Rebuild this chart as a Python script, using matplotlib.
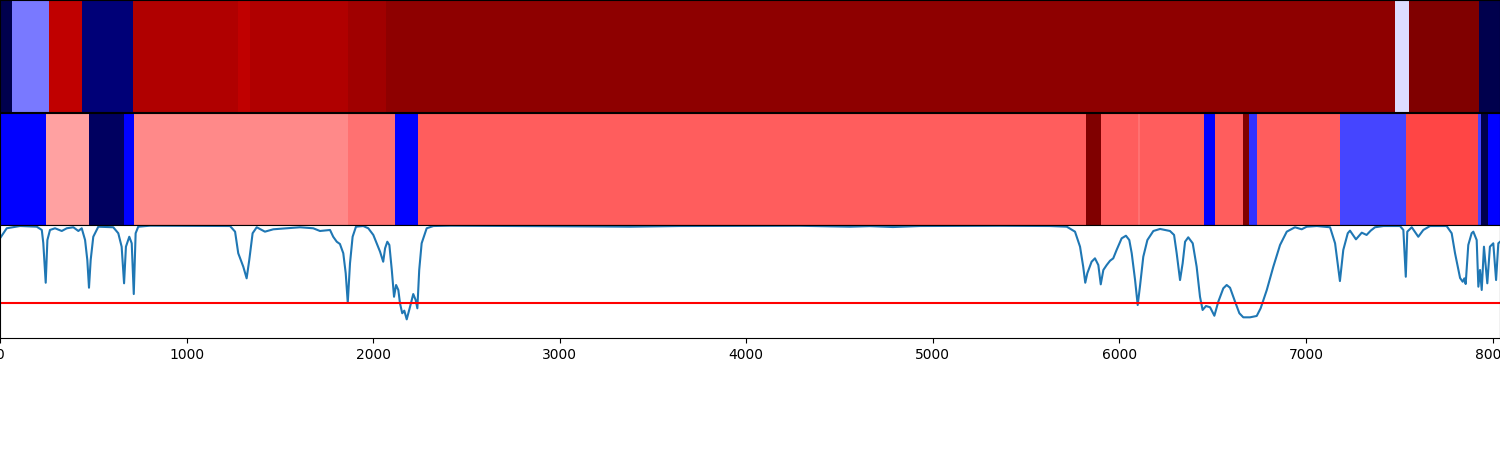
import numpy as np
import matplotlib
matplotlib.use("Agg")
import matplotlib.pyplot as plt

# ---- data ----
top_edges = [0, 64, 263, 440, 713, 1276, 1340, 1865, 2069, 7477, 7552, 7927, 8040]
top_values = [0.0, 0.368, 0.874, 0.061, 0.905, 0.874, 0.905, 0.936, 0.971, 0.466, 1.0, 0.0]

mid_edges = [0, 247, 477, 665, 718, 1865, 2117, 2240, 5821, 5901, 6102, 6110, 6453,
             6512, 6663, 6695, 6738, 7182, 7536, 7922, 7938, 7976, 8040]
mid_values = [0.25, 0.593, 0.03, 0.25, 0.617, 0.64, 0.25, 0.657, 1.0, 0.657, 0.64, 0.657,
              0.25, 0.657, 1.0, 0.297, 0.657, 0.319, 0.681, 0.319, 0.0, 0.25]

spec_x = [0, 36, 107, 197, 224, 232, 245, 254, 268, 295, 331, 358, 393, 420, 438, 456, 468,
          477, 486, 500, 527, 607, 634, 652, 665, 675, 693, 706, 717, 727, 741, 804, 1233,
          1260, 1277, 1304, 1322, 1336, 1354, 1376, 1420, 1465, 1608, 1679, 1715, 1769, 1786,
          1805, 1822, 1840, 1853, 1864, 1876, 1890, 1908, 1947, 1974, 2001, 2037, 2054, 2064,
          2076, 2087, 2100, 2112, 2123, 2135, 2144, 2156, 2167, 2180, 2198, 2215, 2228, 2237,
          2247, 2260, 2287, 2323, 2412, 2787, 3216, 3377, 3645, 4288, 4556, 4663, 4786, 4931,
          5360, 5628, 5718, 5762, 5789, 5806, 5817, 5828, 5851, 5869, 5887, 5900, 5914, 5932,
          5950, 5967, 5985, 6012, 6035, 6053, 6066, 6084, 6098, 6110, 6128, 6150, 6182, 6218,
          6271, 6293, 6307, 6325, 6339, 6352, 6369, 6393, 6414, 6432, 6446, 6464, 6486, 6509,
          6530, 6557, 6575, 6593, 6620, 6643, 6664, 6700, 6736, 6757, 6790, 6825, 6861, 6897,
          6941, 6977, 7004, 7058, 7129, 7156, 7182, 7200, 7224, 7236, 7268, 7299, 7325, 7347,
          7370, 7415, 7504, 7522, 7535, 7543, 7567, 7602, 7629, 7665, 7754, 7781, 7799, 7826,
          7840, 7849, 7856, 7870, 7888, 7897, 7915, 7924, 7933, 7942, 7954, 7972, 7986, 8004,
          8019, 8031, 8051]
spec_y = [0.882, 0.971, 0.991, 0.985, 0.956, 0.841, 0.489, 0.867, 0.956, 0.971, 0.947, 0.971,
          0.980, 0.947, 0.971, 0.867, 0.690, 0.445, 0.690, 0.896, 0.985, 0.980, 0.927, 0.808,
          0.484, 0.808, 0.896, 0.838, 0.389, 0.927, 0.985, 0.994, 0.991, 0.941, 0.750, 0.631,
          0.528, 0.690, 0.927, 0.980, 0.941, 0.962, 0.980, 0.971, 0.947, 0.956, 0.896, 0.852,
          0.832, 0.750, 0.573, 0.312, 0.661, 0.896, 0.985, 0.991, 0.971, 0.912, 0.764, 0.675,
          0.794, 0.852, 0.823, 0.602, 0.365, 0.469, 0.425, 0.307, 0.219, 0.242, 0.165, 0.277,
          0.389, 0.336, 0.263, 0.602, 0.838, 0.971, 0.991, 0.994, 0.991, 0.987, 0.985, 0.991,
          0.993, 0.985, 0.990, 0.982, 0.991, 0.993, 0.991, 0.985, 0.941, 0.808, 0.631, 0.489,
          0.573, 0.675, 0.705, 0.646, 0.475, 0.602, 0.646, 0.684, 0.705, 0.779, 0.882, 0.905,
          0.867, 0.750, 0.513, 0.292, 0.454, 0.719, 0.867, 0.947, 0.965, 0.947, 0.912, 0.750,
          0.513, 0.661, 0.852, 0.891, 0.838, 0.631, 0.365, 0.248, 0.283, 0.272, 0.197, 0.321,
          0.440, 0.469, 0.445, 0.321, 0.219, 0.183, 0.183, 0.195, 0.263, 0.425, 0.631, 0.823,
          0.941, 0.980, 0.962, 0.985, 0.991, 0.980, 0.838, 0.504, 0.779, 0.927, 0.950, 0.873,
          0.932, 0.912, 0.950, 0.980, 0.991, 0.991, 0.956, 0.542, 0.941, 0.980, 0.896, 0.956,
          0.991, 0.991, 0.927, 0.750, 0.531, 0.498, 0.528, 0.478, 0.823, 0.927, 0.941, 0.867,
          0.454, 0.602, 0.425, 0.808, 0.484, 0.808, 0.838, 0.513, 0.838, 0.867]
threshold = 0.31
x_max = 8040

# ---- figure ----
fig = plt.figure(figsize=(15, 4.5), dpi=100)
ax1 = fig.add_axes([0, 1 - 112 / 450, 1, 112 / 450])
ax2 = fig.add_axes([0, 1 - 225 / 450, 1, 112 / 450])
ax3 = fig.add_axes([0, 1 - 338 / 450, 1, 113 / 450])

for ax, edges, vals in ((ax1, top_edges, top_values), (ax2, mid_edges, mid_values)):
    ax.pcolormesh(edges, [0, 1], np.array(vals)[np.newaxis, :], cmap="seismic",
                  vmin=0, vmax=1)
    ax.set_xlim(0, x_max)
    ax.set_ylim(0, 1)
    ax.set_xticks([])
    ax.set_yticks([])

ax3.plot(spec_x, spec_y, color="tab:blue", lw=1.5)
ax3.axhline(threshold, color="red", lw=1.5)
ax3.set_xlim(0, x_max)
ax3.set_ylim(0, 1)
ax3.set_yticks([])
ax3.set_xticks([0, 1000, 2000, 3000, 4000, 5000, 6000, 7000, 8000])

fig.savefig("out.png", dpi=100)
